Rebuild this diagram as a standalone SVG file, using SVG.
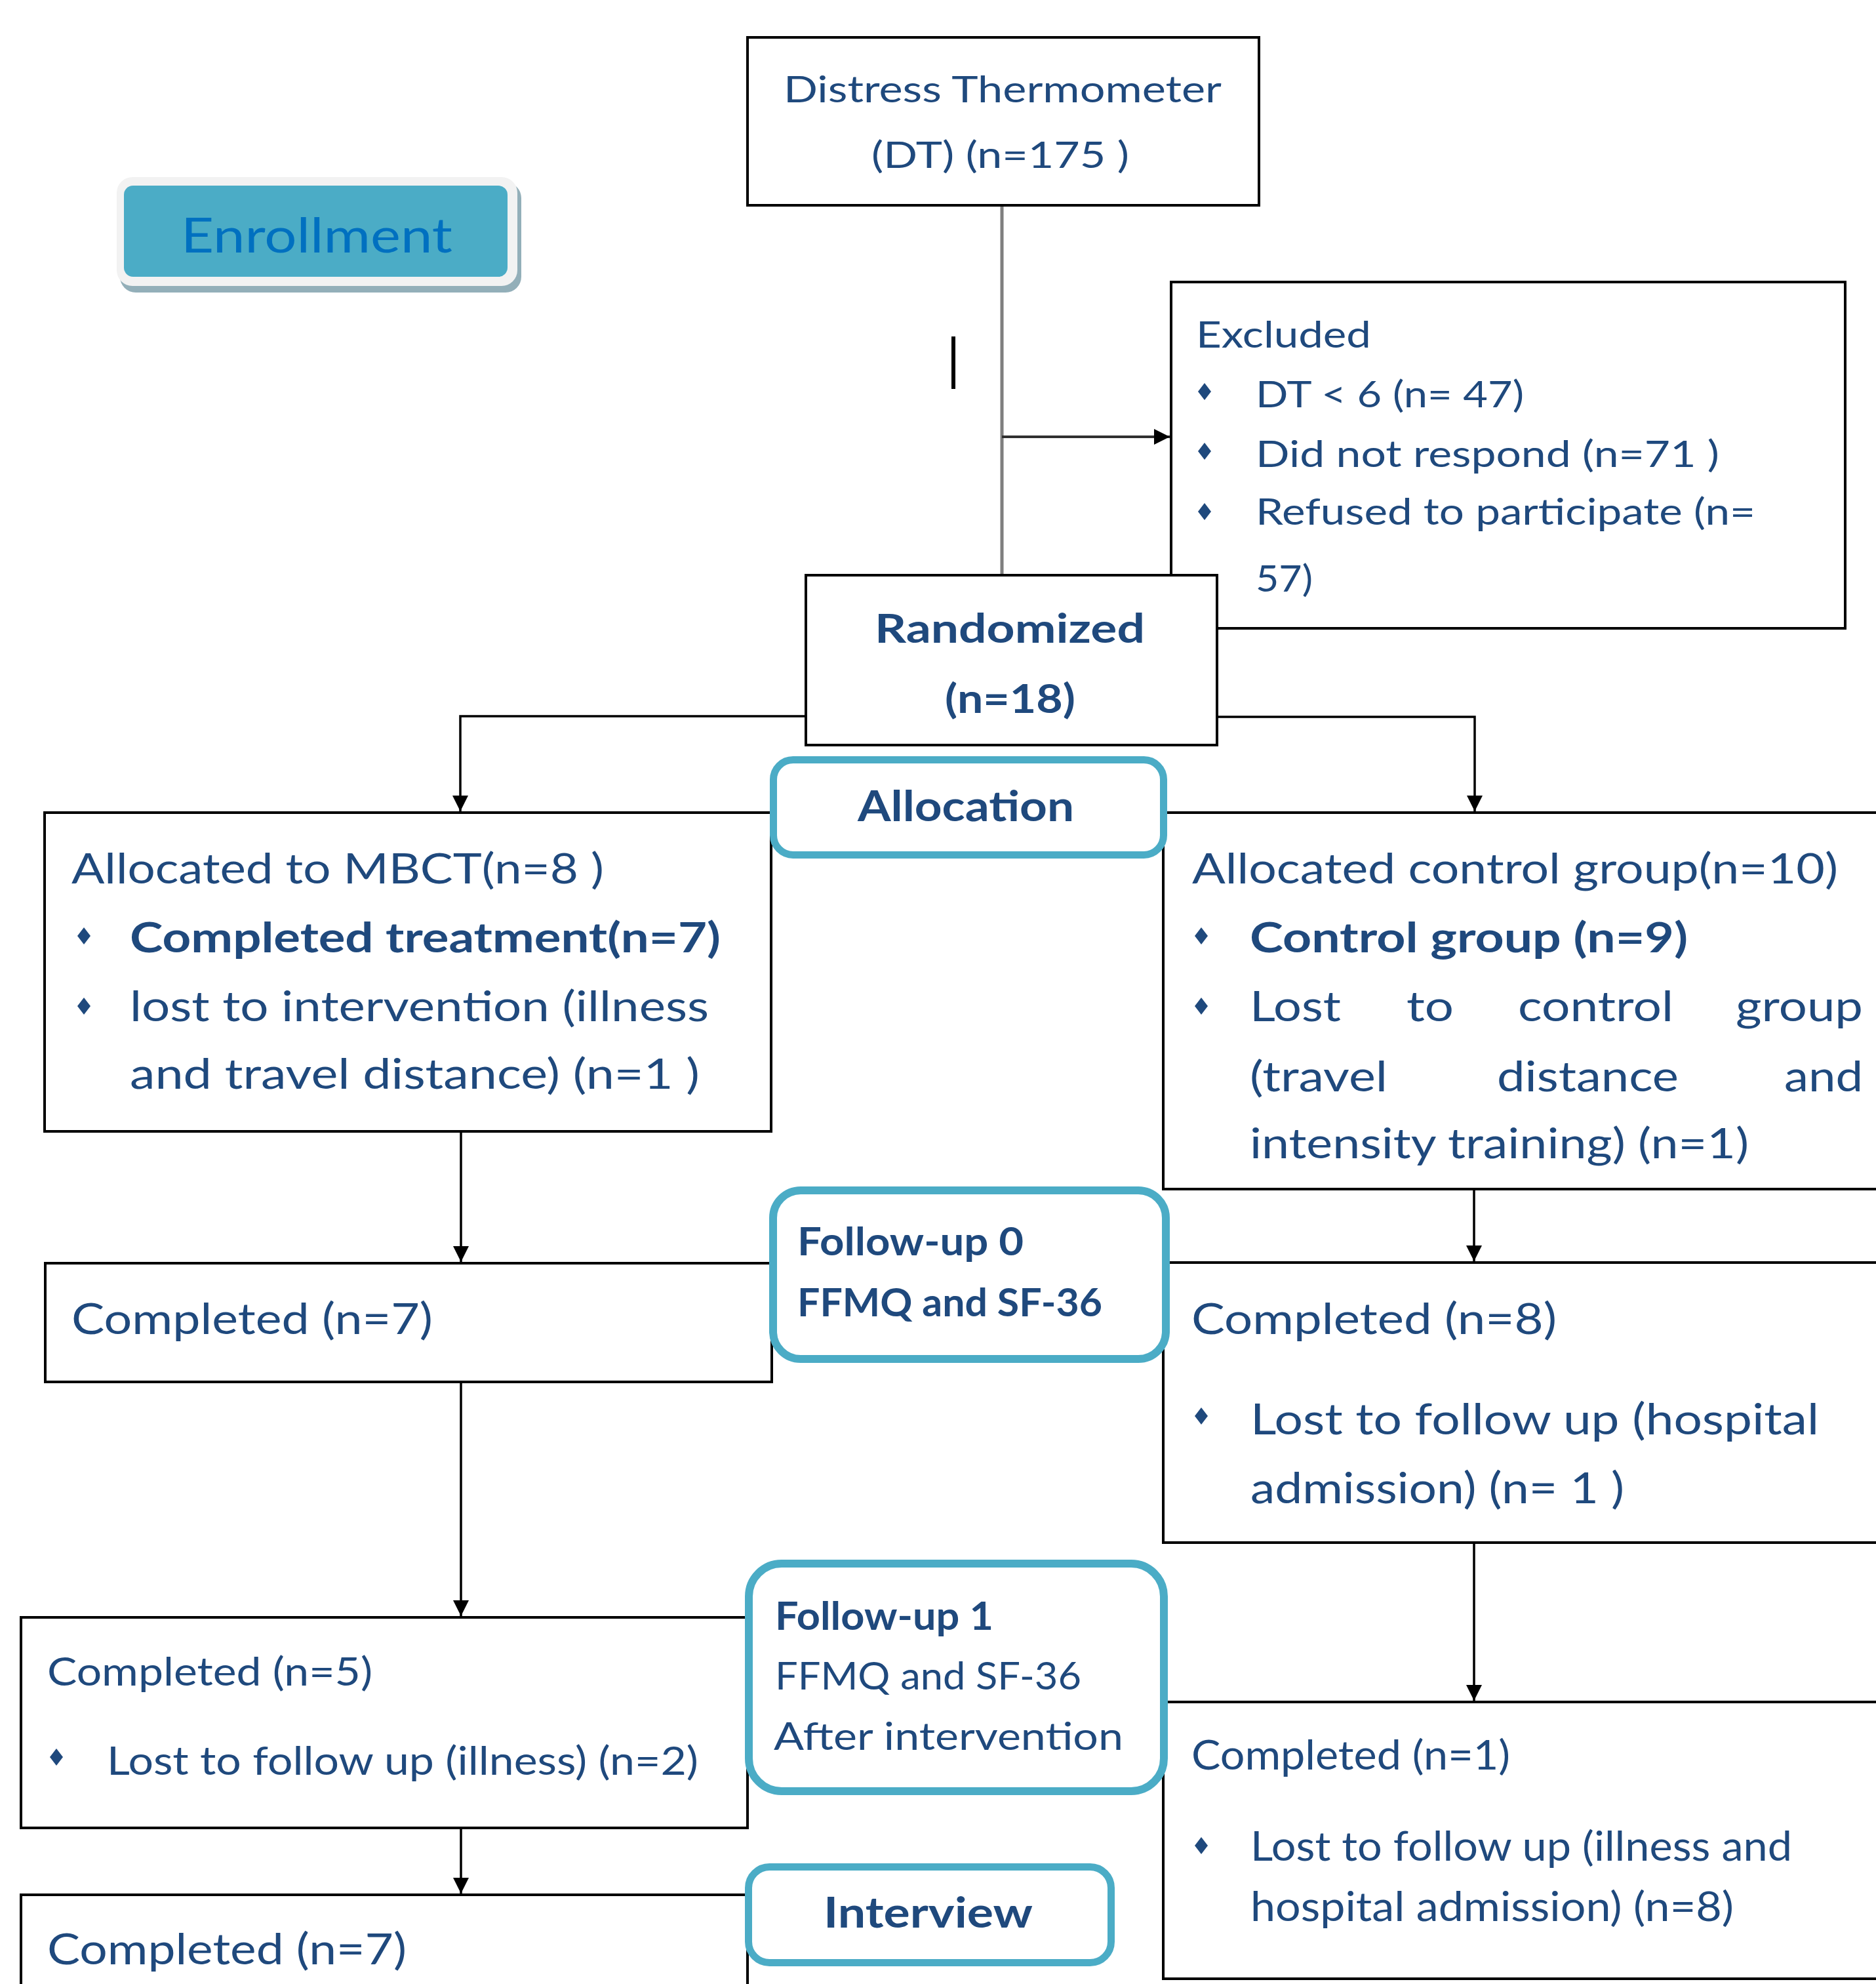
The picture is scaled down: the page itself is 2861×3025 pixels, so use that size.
<svg xmlns="http://www.w3.org/2000/svg" width="2861" height="3025" viewBox="0 0 2861 3025">
<style>
.bg{fill:#ffffff}
.box{fill:#ffffff;stroke:#000000;stroke-width:4}
.rbox{fill:#ffffff;stroke:#4BACC6;stroke-width:12}
.t{font-family:Lato,"Open Sans","Liberation Sans",sans-serif;fill:#1F497D;font-size:62px}
.b{font-weight:bold}
.conn{stroke:#000000;stroke-width:3.5;fill:none}
.bul{fill:#1F497D}
</style>
<defs>
<marker id="ah" viewBox="0 0 10 10" refX="10" refY="5" markerUnits="userSpaceOnUse" markerWidth="26" markerHeight="24" orient="auto">
<path d="M0,0 L10,5 L0,10 z" fill="#000000"/>
</marker>
<path id="dia" d="M0,-13 L10,0 L0,13 L-10,0 z"/>
</defs>
<rect class="bg" x="0" y="0" width="2861" height="3025"/>

<g id="connectors">
<line x1="1528" y1="313" x2="1528" y2="877" stroke="#7f7f7f" stroke-width="5"/>
<line x1="1528" y1="666" x2="1784" y2="666" stroke="#303030" stroke-width="4" marker-end="url(#ah)"/>
<line x1="1454" y1="513" x2="1454" y2="593" stroke="#000000" stroke-width="6"/>
<polyline class="conn" points="1229,1092 702,1092 702,1237" marker-end="url(#ah)"/>
<polyline class="conn" points="1856,1093 2249,1093 2249,1237" marker-end="url(#ah)"/>
<line class="conn" x1="703" y1="1725" x2="703" y2="1924" marker-end="url(#ah)"/>
<line class="conn" x1="2248" y1="1813" x2="2248" y2="1923" marker-end="url(#ah)"/>
<line class="conn" x1="703" y1="2107" x2="703" y2="2464" marker-end="url(#ah)"/>
<line class="conn" x1="2248" y1="2352" x2="2248" y2="2593" stroke="#202020" marker-end="url(#ah)"/>
<line class="conn" x1="703" y1="2787" x2="703" y2="2887" marker-end="url(#ah)"/>
</g>

<g id="enrollment">
<rect x="183" y="278" width="612" height="168" rx="24" fill="#93AFB9"/>
<rect x="178" y="270" width="611" height="166" rx="24" fill="#F2F2F2"/>
<rect x="189" y="283" width="585" height="139" rx="14" fill="#4BACC6"/>
<text class="t" x="276" y="385" font-size="74" textLength="414" lengthAdjust="spacingAndGlyphs" style="fill:#0070C0;font-size:74px">Enrollment</text>
</g>

<g id="dt">
<rect class="box" x="1140" y="57" width="780" height="256"/>
<text class="t" x="1195" y="156" textLength="668" lengthAdjust="spacingAndGlyphs" style="font-size:57px">Distress Thermometer</text>
<text class="t" x="1329" y="256" textLength="393" lengthAdjust="spacingAndGlyphs" style="font-size:57px">(DT) (n=175 )</text>
</g>

<g id="excluded">
<rect class="box" x="1786" y="430" width="1028" height="528"/>
<text class="t" x="1824" y="530" textLength="267" lengthAdjust="spacingAndGlyphs" style="font-size:57px">Excluded</text>
<use href="#dia" class="bul" x="1837" y="597"/>
<text class="t" x="1915" y="621" textLength="409" lengthAdjust="spacingAndGlyphs" style="font-size:57px">DT &lt; 6 (n= 47)</text>
<use href="#dia" class="bul" x="1837" y="688"/>
<text class="t" x="1915" y="712" textLength="707" lengthAdjust="spacingAndGlyphs" style="font-size:57px">Did not respond (n=71 )</text>
<use href="#dia" class="bul" x="1837" y="780"/>
<text class="t" x="1915" y="800" textLength="762" lengthAdjust="spacingAndGlyphs" style="font-size:57px">Refused to participate (n=</text>
<text class="t" x="1915" y="902" textLength="87" lengthAdjust="spacingAndGlyphs" style="font-size:57px">57)</text>
</g>

<g id="randomized">
<rect class="box" x="1229" y="877" width="627" height="259"/>
<text class="t b" x="1334" y="980" textLength="412" lengthAdjust="spacingAndGlyphs" style="font-size:61px">Randomized</text>
<text class="t b" x="1441" y="1087" textLength="199" lengthAdjust="spacingAndGlyphs" style="font-size:61px">(n=18)</text>
</g>

<g id="mbct">
<rect class="box" x="68" y="1239" width="1108" height="486"/>
<text class="t" x="109" y="1347" textLength="812" lengthAdjust="spacingAndGlyphs" style="font-size:64px">Allocated to MBCT(n=8 )</text>
<use href="#dia" class="bul" x="128" y="1427"/>
<text class="t b" x="198" y="1452" textLength="901" lengthAdjust="spacingAndGlyphs" style="font-size:64px">Completed treatment(n=7)</text>
<use href="#dia" class="bul" x="128" y="1534"/>
<text class="t" x="198" y="1557" textLength="883" lengthAdjust="spacingAndGlyphs" style="font-size:64px">lost to intervention (illness</text>
<text class="t" x="198" y="1660" textLength="869" lengthAdjust="spacingAndGlyphs" style="font-size:64px">and travel distance) (n=1 )</text>
</g>

<g id="control">
<rect class="box" x="1774" y="1239" width="1130" height="574"/>
<text class="t" x="1818" y="1347" textLength="985" lengthAdjust="spacingAndGlyphs" style="font-size:64px">Allocated control group(n=10)</text>
<use href="#dia" class="bul" x="1832" y="1427"/>
<text class="t b" x="1906" y="1452" textLength="668" lengthAdjust="spacingAndGlyphs" style="font-size:64px">Control group (n=9)</text>
<use href="#dia" class="bul" x="1832" y="1534"/>
<text class="t" y="1557" style="font-size:64px"><tspan x="1906" textLength="139" lengthAdjust="spacingAndGlyphs">Lost</tspan><tspan x="2145" textLength="72" lengthAdjust="spacingAndGlyphs">to</tspan><tspan x="2315" textLength="237" lengthAdjust="spacingAndGlyphs">control</tspan><tspan x="2647" textLength="194" lengthAdjust="spacingAndGlyphs">group</tspan></text>
<text class="t" y="1664" style="font-size:64px"><tspan x="1906" textLength="210" lengthAdjust="spacingAndGlyphs">(travel</tspan><tspan x="2283" textLength="277" lengthAdjust="spacingAndGlyphs">distance</tspan><tspan x="2721" textLength="120" lengthAdjust="spacingAndGlyphs">and</tspan></text>
<text class="t" x="1906" y="1766" textLength="761" lengthAdjust="spacingAndGlyphs" style="font-size:64px">intensity training) (n=1)</text>
</g>

<g id="completed-mbct-0">
<rect class="box" x="69" y="1926" width="1108" height="181"/>
<text class="t" x="109" y="2034" textLength="551" lengthAdjust="spacingAndGlyphs" style="font-size:65px">Completed (n=7)</text>
</g>

<g id="completed-control-0">
<rect class="box" x="1774" y="1925" width="1130" height="427"/>
<text class="t" x="1817" y="2034" textLength="557" lengthAdjust="spacingAndGlyphs" style="font-size:66px">Completed (n=8)</text>
<use href="#dia" class="bul" x="1832" y="2159"/>
<text class="t" x="1907" y="2187" textLength="867" lengthAdjust="spacingAndGlyphs" style="font-size:66px">Lost to follow up (hospital</text>
<text class="t" x="1907" y="2292" textLength="570" lengthAdjust="spacingAndGlyphs" style="font-size:66px">admission) (n= 1 )</text>
</g>

<g id="completed-mbct-1">
<rect class="box" x="32" y="2466" width="1108" height="321"/>
<text class="t" x="72" y="2570" textLength="496" lengthAdjust="spacingAndGlyphs" style="font-size:60px">Completed (n=5)</text>
<use href="#dia" class="bul" x="86" y="2679"/>
<text class="t" x="163" y="2706" textLength="902" lengthAdjust="spacingAndGlyphs" style="font-size:60px">Lost to follow up (illness) (n=2)</text>
</g>

<g id="completed-control-1">
<rect class="box" x="1774" y="2595" width="1130" height="422"/>
<text class="t" x="1817" y="2698" textLength="486" lengthAdjust="spacingAndGlyphs" style="font-size:62px">Completed (n=1)</text>
<use href="#dia" class="bul" x="1832" y="2814"/>
<text class="t" x="1907" y="2837" textLength="826" lengthAdjust="spacingAndGlyphs" style="font-size:62px">Lost to follow up (illness and</text>
<text class="t" x="1907" y="2929" textLength="737" lengthAdjust="spacingAndGlyphs" style="font-size:62px">hospital admission) (n=8)</text>
</g>

<g id="completed-mbct-2">
<rect class="box" x="32" y="2889" width="1108" height="160"/>
<text class="t" x="72" y="2995" textLength="548" lengthAdjust="spacingAndGlyphs" style="font-size:65px">Completed (n=7)</text>
</g>

<g id="allocation">
<rect class="rbox" x="1179.5" y="1158.5" width="595" height="145" rx="30" style="stroke-width:11"/>
<text class="t b" x="1308" y="1252" textLength="330" lengthAdjust="spacingAndGlyphs" style="font-size:65px">Allocation</text>
</g>

<g id="followup0">
<rect class="rbox" x="1179" y="1815" width="599" height="257" rx="42"/>
<text class="t b" x="1216" y="1914" textLength="345" lengthAdjust="spacingAndGlyphs" style="font-size:60px">Follow-up 0</text>
<text class="t b" x="1216" y="2007" textLength="465" lengthAdjust="spacingAndGlyphs" style="font-size:60px">FFMQ and SF-36</text>
</g>

<g id="followup1">
<rect class="rbox" x="1142" y="2384" width="633" height="347" rx="50"/>
<text class="t b" x="1182" y="2485" textLength="333" lengthAdjust="spacingAndGlyphs" style="font-size:59px">Follow-up 1</text>
<text class="t" x="1182" y="2576" textLength="467" lengthAdjust="spacingAndGlyphs" style="font-size:59px">FFMQ and SF-36</text>
<text class="t" x="1180" y="2668" textLength="533" lengthAdjust="spacingAndGlyphs" style="font-size:59px">After intervention</text>
</g>

<g id="interview">
<rect class="rbox" x="1141.5" y="2846.5" width="553" height="146" rx="32" style="stroke-width:11"/>
<text class="t b" x="1256" y="2939" textLength="319" lengthAdjust="spacingAndGlyphs" style="font-size:65px">Interview</text>
</g>
</svg>
